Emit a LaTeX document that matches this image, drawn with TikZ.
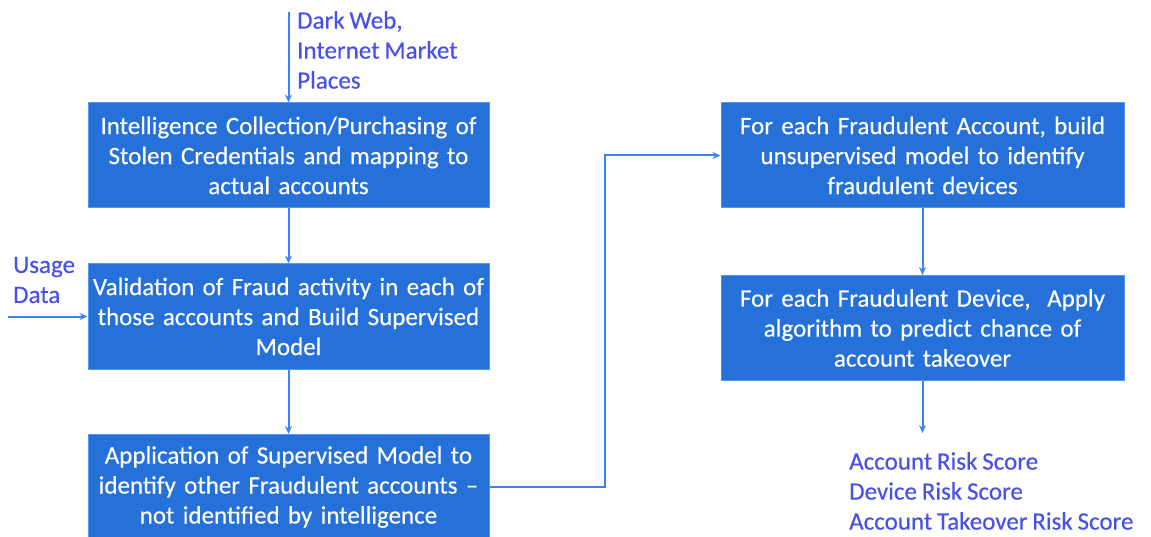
\documentclass[tikz,border=0pt]{standalone}
\usepackage{fontspec}
\setmainfont{Carlito}[FakeBold=0.35, WordSpace=0.85]
\usetikzlibrary{arrows.meta}
\definecolor{boxfill}{RGB}{38,112,217}
\definecolor{boxline}{RGB}{84,150,240}
\definecolor{arrcol}{RGB}{60,132,246}
\definecolor{lblcol}{RGB}{72,80,236}
\begin{document}
\begin{tikzpicture}[x=1pt,y=-1pt,
  stepbox/.style={draw=boxline, line width=1pt, fill=boxfill, text=white,
    minimum width=401pt, minimum height=105pt, text width=398pt, align=center,
    inner sep=0pt, font=\fontsize{25}{30}\selectfont},
  lbl/.style={text=lblcol, align=left, inner sep=0pt, anchor=west,
    font=\fontsize{25}{30}\selectfont},
  arr/.style={draw=arrcol, line width=2pt, -{Stealth[length=8pt,width=7pt]}}]
\useasboundingbox (0,0) rectangle (1151,537);
\node[stepbox] (b1) at (288.5,155.5) {Intelligence Collection/Purchasing of\\Stolen Credentials and mapping to\\actual accounts};
\node[stepbox] (b2) at (288.5,316.5) {Validation of Fraud activity in each of\\those accounts and Build Supervised\\Model};
\node[stepbox] (b3) at (288.5,487) {Application of Supervised Model to\\identify other Fraudulent accounts --\\not identified by intelligence};
\node[stepbox, minimum width=403pt] (b4) at (922.5,155.5) {For each Fraudulent Account, build\\unsupervised model to identify\\fraudulent devices};
\node[stepbox, minimum width=403pt] (b5) at (922.5,328) {For each Fraudulent Device,\ \ Apply\\algorithm to predict chance of\\account takeover};
\node[lbl] (dw) at (297,50) {Dark Web,\\Internet Market\\Places};
\node[lbl] (ud) at (13,280) {Usage\\Data};
\node[lbl] (out) at (849,491) {Account Risk Score\\Device Risk Score\\Account Takeover Risk Score};
\coordinate (dwin) at (288.5,12);
\coordinate (udin) at (8,316.5);
\coordinate (elb) at (605,487);
\coordinate (outend) at (922.5,433);
\draw[arr] (dwin) -- (b1.north);
\draw[arr] (b1.south) -- (b2.north);
\draw[arr] (udin) -- (b2.west);
\draw[arr] (b2.south) -- (b3.north);
\draw[arr] (b3.east) -- (elb) |- (b4.west);
\draw[arr] (b4.south) -- (b5.north);
\draw[arr] (b5.south) -- (outend);
\end{tikzpicture}
\end{document}
